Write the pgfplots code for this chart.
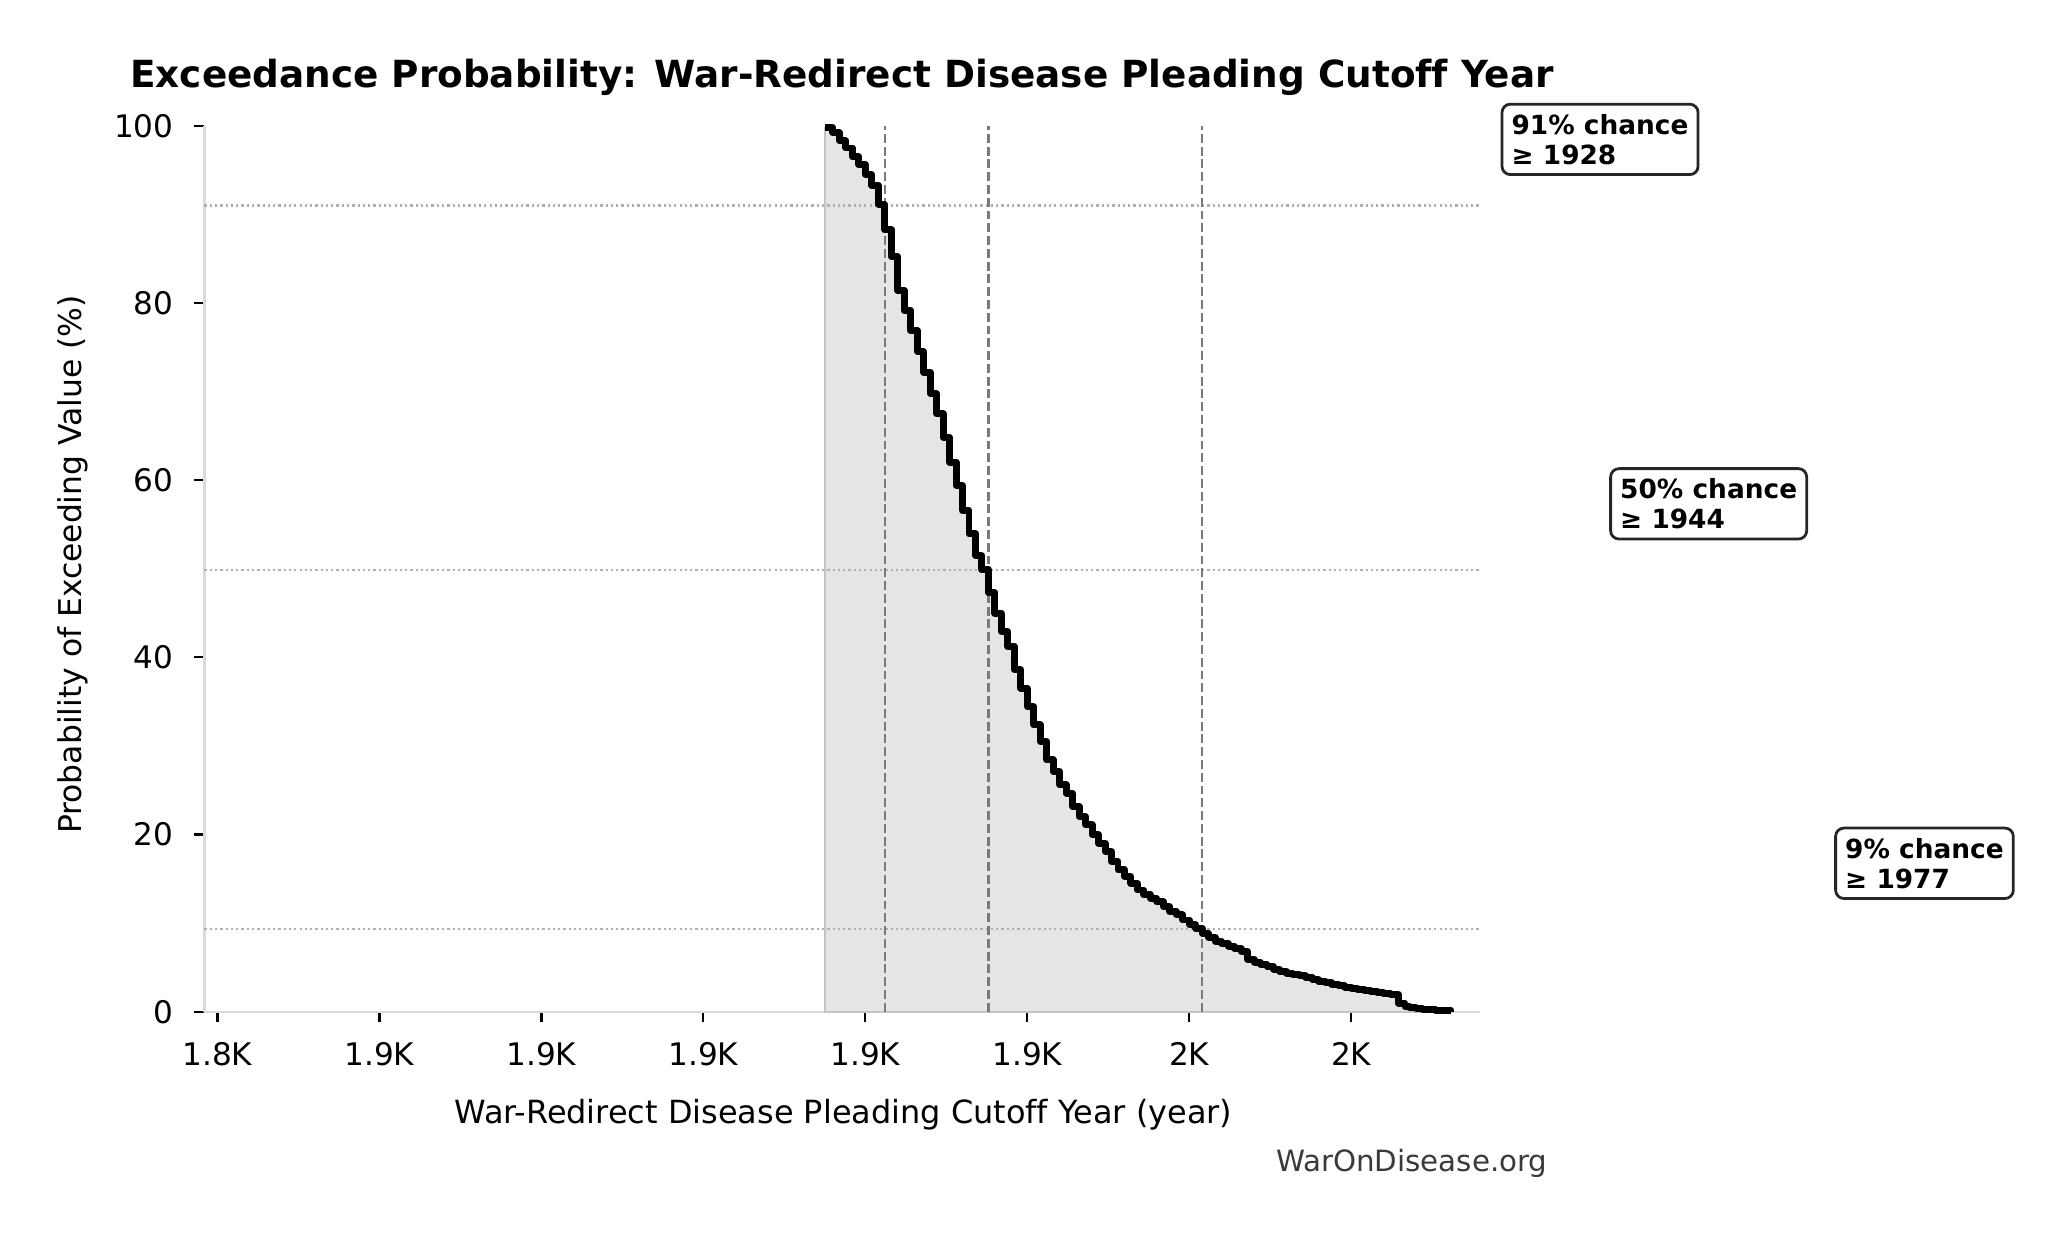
\documentclass[border=0pt]{standalone}
\usepackage{pgfplots}
\pgfplotsset{compat=1.18}
\usepackage{pgfplotstable}
\usepackage{fontspec}
\setmainfont{DejaVu Sans}[Ligatures=NoCommon]
\definecolor{fillgray}{HTML}{E5E5E5}
\definecolor{edgegray}{HTML}{C4C4C4}
\definecolor{spine}{HTML}{DADADA}
\definecolor{dashgray}{HTML}{7A7A7A}
\definecolor{dotgray}{HTML}{B0B0B0}
\definecolor{wm}{HTML}{3A3A3A}

\pgfplotstableread{
x y
1918.8 99.8
1920 99.2
1921 98.3
1922 97.5
1923 96.5
1924 95.6
1925 94.5
1926 93.3
1927 91.15
1928 88.26
1929 85.24
1930 81.41
1931 79.15
1932 76.89
1933 74.52
1934 72.18
1935 69.74
1936 67.48
1937 64.85
1938 62.02
1939 59.39
1940 56.57
1941 53.93
1942 51.48
1943 49.87
1944 47.3
1945 44.98
1946 42.91
1947 41.22
1948 38.58
1949 36.51
1950 34.44
1951 32.37
1952 30.49
1953 28.42
1954 27.10
1955 25.60
1956 24.66
1957 23.15
1958 22.02
1959 21.08
1960 19.95
1961 19.01
1962 18.07
1963 16.94
1964 16.00
1965 15.25
1966 14.50
1967 13.74
1968 13.18
1969 12.80
1970 12.42
1971 11.86
1972 11.30
1973 10.92
1974 10.35
1975 9.79
1976 9.41
1977 8.85
1978 8.40
1979 7.95
1980 7.72
1981 7.40
1982 7.10
1983 6.80
1984 5.90
1985 5.60
1986 5.35
1987 5.10
1988 4.80
1989 4.55
1990 4.35
1991 4.20
1992 4.05
1993 3.85
1994 3.60
1995 3.40
1996 3.28
1997 3.10
1998 2.95
1999 2.78
2000 2.60
2001 2.48
2002 2.38
2003 2.25
2004 2.12
2005 2.02
2006 1.95
2007.3 0.95
2008.3 0.60
2009 0.45
2010 0.35
2011 0.28
2012 0.22
2013 0.18
2014 0.12
2015.4 0.08
}\exceed

\begin{document}
\begin{tikzpicture}
\useasboundingbox (-73.62pt,-80.03pt) rectangle (667.98pt,364.21pt);
\begin{axis}[
  at={(0pt,0pt)}, anchor=south west,
  width=459pt, height=318.9pt, scale only axis,
  xmin=1823, xmax=2019.8, ymin=0, ymax=100,
  axis x line*=bottom, axis y line*=left,
  axis line style={spine, line width=0.8pt},
  xtick={1825,1850,1875,1900,1925,1950,1975,2000},
  xticklabels={1.8K,1.9K,1.9K,1.9K,1.9K,1.9K,2K,2K},
  ytick={0,20,40,60,80,100},
  yticklabels={0,20,40,60,80,100},
  tick align=outside,
  major tick length=3.6pt,
  tick style={black, line width=0.8pt},
  ticklabel style={font=\fontsize{11.2}{13}\selectfont},
  xticklabel style={yshift=-4pt},
  yticklabel style={xshift=-4pt},
  clip=false,
]
\addplot[const plot, fill=fillgray, draw=edgegray, line width=0.8pt] table[x=x,y=y] {\exceed} \closedcycle;
\addplot[dotgray, line width=0.8pt, dash pattern=on 0.8pt off 1.1pt] coordinates {(1823,91) (2019.8,91)};
\addplot[dotgray, line width=0.8pt, dash pattern=on 0.8pt off 1.1pt] coordinates {(1823,49.9) (2019.8,49.9)};
\addplot[dotgray, line width=0.8pt, dash pattern=on 0.8pt off 1.1pt] coordinates {(1823,9.3) (2019.8,9.3)};
\addplot[dashgray, line width=0.9pt, dash pattern=on 3.2pt off 1.4pt] coordinates {(1928,0) (1928,100)};
\addplot[dashgray, line width=0.9pt, dash pattern=on 3.2pt off 1.4pt] coordinates {(1944,0) (1944,100)};
\addplot[dashgray, line width=0.9pt, dash pattern=on 3.2pt off 1.4pt] coordinates {(1977,0) (1977,100)};
\addplot[const plot, black, line width=2.5pt, line join=round] table[x=x,y=y] {\exceed};
\end{axis}
\node[anchor=base, font=\fontsize{13.45}{16}\selectfont\bfseries] at (229.5pt,332.8pt) {Exceedance Probability: War-Redirect Disease Pleading Cutoff Year};
\node[anchor=base, font=\fontsize{11.5}{13}\selectfont] at (230pt,-40.4pt) {War-Redirect Disease Pleading Cutoff Year (year)};
\node[anchor=base, rotate=90, font=\fontsize{11.3}{13}\selectfont] at (-44.2pt,161pt) {Probability of Exceeding Value (\%)};
\node[anchor=base east, text=wm, font=\fontsize{10.55}{12}\selectfont] at (487pt,-57.6pt) {WarOnDisease.org};
\tikzset{ann/.style={draw=black!85, line width=1pt, rounded corners=3pt, fill=white, anchor=north west, inner xsep=3.45pt, inner ysep=3.6pt, align=left, font=\fontsize{9.5}{10.8}\selectfont\bfseries}}
\node[ann] at (466.6pt,327.2pt) {91\% chance\\≥ 1928};
\node[ann] at (505.7pt,196pt) {50\% chance\\≥ 1944};
\node[ann] at (586.7pt,66.6pt) {9\% chance\\≥ 1977};
\end{tikzpicture}
\end{document}
